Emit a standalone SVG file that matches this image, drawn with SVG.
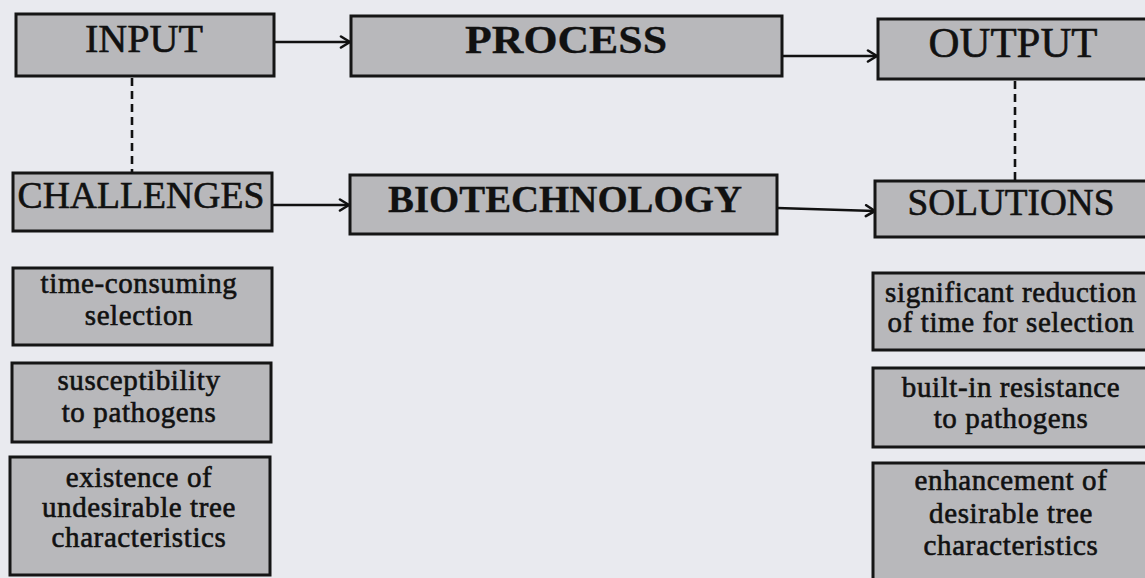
<svg xmlns="http://www.w3.org/2000/svg" width="1145" height="578" viewBox="0 0 1145 578">
  <defs>
    <marker id="chev" viewBox="0 0 14 14" refX="13" refY="7" markerWidth="14" markerHeight="14" markerUnits="userSpaceOnUse" orient="auto">
      <path d="M4,1.5 L13,7 L4,12.5" fill="none" stroke="#111" stroke-width="2.6" stroke-linecap="round" stroke-linejoin="round"/>
    </marker>
  </defs>
  <style>
    .box { fill: #b8b8bb; stroke: #151515; stroke-width: 3; }
    .head { font-family: "Liberation Serif", "Times New Roman", serif; fill: #111; stroke: #111; stroke-width: 0.6; text-anchor: middle; }
    .bold { font-weight: bold; stroke-width: 0.3; }
    .item { font-family: "Liberation Serif", "Times New Roman", serif; font-size: 29px; letter-spacing: 0.6px; fill: #111; stroke: #111; stroke-width: 0.6; text-anchor: middle; }
    .link { stroke: #111; stroke-width: 2.4; fill: none; }
    .dash { stroke: #111; stroke-width: 2.6; fill: none; stroke-dasharray: 8 5; }
  </style>
  <rect width="1145" height="578" fill="#e9eaef"/>

  <g id="connectors">
    <line class="link" x1="274" y1="42" x2="350" y2="42" marker-end="url(#chev)"/>
    <line class="link" x1="782" y1="56" x2="877" y2="56" marker-end="url(#chev)"/>
    <line class="link" x1="272" y1="205" x2="349" y2="205" marker-end="url(#chev)"/>
    <line class="link" x1="777" y1="208" x2="875" y2="211" marker-end="url(#chev)"/>
    <line class="dash" x1="132" y1="78" x2="132" y2="173"/>
    <line class="dash" x1="1015" y1="81" x2="1015" y2="181"/>
  </g>

  <g id="input">
    <rect class="box" x="16" y="14" width="258" height="62"/>
    <text class="head" x="144" y="52" font-size="40" textLength="118" lengthAdjust="spacingAndGlyphs">INPUT</text>
  </g>
  <g id="process">
    <rect class="box" x="351" y="16" width="431" height="60"/>
    <text class="head bold" x="566" y="53" font-size="41" textLength="202" lengthAdjust="spacingAndGlyphs">PROCESS</text>
  </g>
  <g id="output">
    <rect class="box" x="878" y="19" width="272" height="60"/>
    <text class="head" x="1013" y="57" font-size="42" textLength="169" lengthAdjust="spacingAndGlyphs">OUTPUT</text>
  </g>

  <g id="challenges">
    <rect class="box" x="13" y="173" width="259" height="58"/>
    <text class="head" x="141" y="208" font-size="38" textLength="247" lengthAdjust="spacingAndGlyphs">CHALLENGES</text>
  </g>
  <g id="biotechnology">
    <rect class="box" x="350" y="175" width="427" height="59"/>
    <text class="head bold" x="565" y="212" font-size="38" textLength="354" lengthAdjust="spacingAndGlyphs">BIOTECHNOLOGY</text>
  </g>
  <g id="solutions">
    <rect class="box" x="875" y="181" width="275" height="56"/>
    <text class="head" x="1011" y="215" font-size="38" textLength="207" lengthAdjust="spacingAndGlyphs">SOLUTIONS</text>
  </g>

  <g id="challenge-1">
    <rect class="box" x="13" y="268" width="259" height="77"/>
    <text class="item" x="139" y="293">time-consuming</text>
    <text class="item" x="139" y="325">selection</text>
  </g>
  <g id="challenge-2">
    <rect class="box" x="12" y="363" width="259" height="79"/>
    <text class="item" x="139" y="390">susceptibility</text>
    <text class="item" x="139" y="422">to pathogens</text>
  </g>
  <g id="challenge-3">
    <rect class="box" x="10" y="457" width="260" height="118"/>
    <text class="item" x="139" y="487">existence of</text>
    <text class="item" x="139" y="517">undesirable tree</text>
    <text class="item" x="139" y="547">characteristics</text>
  </g>

  <g id="solution-1">
    <rect class="box" x="873" y="273" width="277" height="77"/>
    <text class="item" x="1011" y="302">significant reduction</text>
    <text class="item" x="1011" y="332">of time for selection</text>
  </g>
  <g id="solution-2">
    <rect class="box" x="873" y="368" width="277" height="79"/>
    <text class="item" x="1011" y="397">built-in resistance</text>
    <text class="item" x="1011" y="428">to pathogens</text>
  </g>
  <g id="solution-3">
    <rect class="box" x="873" y="463" width="277" height="120"/>
    <text class="item" x="1011" y="490">enhancement of</text>
    <text class="item" x="1011" y="523">desirable tree</text>
    <text class="item" x="1011" y="555">characteristics</text>
  </g>
</svg>
